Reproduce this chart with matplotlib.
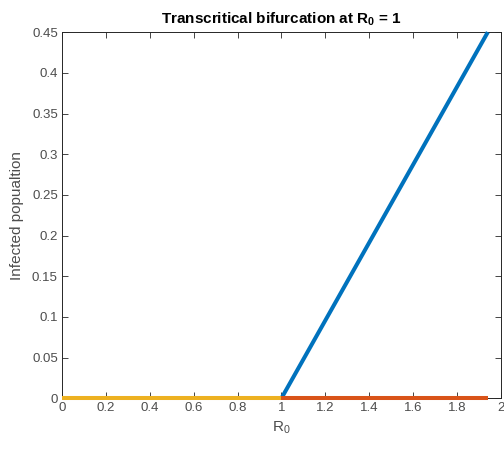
import numpy as np
import matplotlib.pyplot as plt

plt.rcParams['font.family'] = ['Liberation Sans', 'DejaVu Sans']
plt.rcParams['mathtext.fontset'] = 'custom'
plt.rcParams['mathtext.rm'] = 'Liberation Sans'
plt.rcParams['mathtext.it'] = 'Liberation Sans'
plt.rcParams['mathtext.bf'] = 'Liberation Sans:bold'

# endemic branch (unstable trivial branch above 1, stable below)
r0_endemic = [1.0, 1.94]
i_endemic = [0.0, 0.45]
r0_dfe_high = [1.0, 1.94]
i_dfe_high = [0.0, 0.0]
r0_dfe_low = [0.0, 1.0]
i_dfe_low = [0.0, 0.0]

xticks = [0, 0.2, 0.4, 0.6, 0.8, 1, 1.2, 1.4, 1.6, 1.8, 2]
xlabels = ['0', '0.2', '0.4', '0.6', '0.8', '1', '1.2', '1.4', '1.6', '1.8', '2']
yticks = [0, 0.05, 0.1, 0.15, 0.2, 0.25, 0.3, 0.35, 0.4, 0.45]
ylabels = ['0', '0.05', '0.1', '0.15', '0.2', '0.25', '0.3', '0.35', '0.4', '0.45']

fig = plt.figure(figsize=(5.04, 4.53), dpi=100)
ax = fig.add_axes([0.123, 0.121, 0.871, 0.808])

ax.plot(r0_endemic, i_endemic, color='#0072BD', lw=2.9, solid_capstyle='butt', clip_on=False, zorder=3)
ax.plot(r0_dfe_high, i_dfe_high, color='#D95319', lw=2.9, solid_capstyle='butt', clip_on=False, zorder=3)
ax.plot(r0_dfe_low, i_dfe_low, color='#EDB120', lw=2.9, solid_capstyle='butt', clip_on=False, zorder=3)

ax.set_xlim(0, 2)
ax.set_ylim(0, 0.45)
ax.set_xticks(xticks)
ax.set_xticklabels(xlabels)
ax.set_yticks(yticks)
ax.set_yticklabels(ylabels)
ax.tick_params(direction='in', top=True, right=True, length=4, width=0.6,
               labelsize=9.5, colors='#262626', labelcolor='#4d4d4d', pad=3)
for s in ax.spines.values():
    s.set_linewidth(0.7)
    s.set_color('#262626')

ax.set_xlabel('R$_0$', fontsize=11, color='#4d4d4d', labelpad=4)
ax.set_ylabel('Infected popualtion', fontsize=11, color='#4d4d4d', labelpad=6)
ax.set_title('Transcritical bifurcation at $\\mathbf{R_0}$ = 1', fontsize=11,
             fontweight='bold', color='black', pad=6)

fig.savefig('out.png', dpi=100)
